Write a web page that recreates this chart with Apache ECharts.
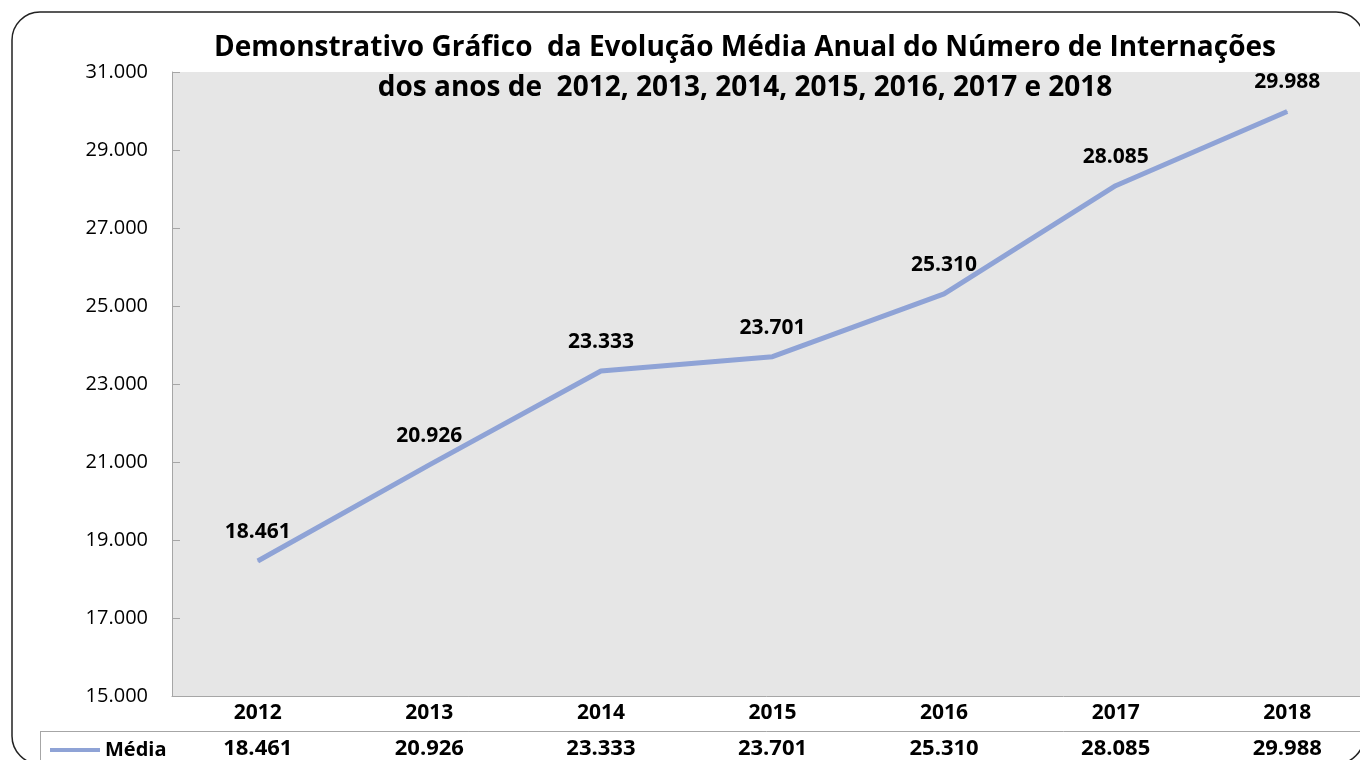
<!DOCTYPE html>
<html lang="pt">
<head>
    <meta charset="UTF-8">
    <title>Evolução Média Anual do Número de Internações</title>
    <script src="https://cdn.jsdelivr.net/npm/echarts@6/dist/echarts.min.js"></script>
    <style>
        html, body { margin: 0; padding: 0; background: #fff; }
        #chart { width: 1360px; height: 760px; }
    </style>
</head>
<body>
<div id="chart"></div>
<script>
    // dados
    var anos = ['2012', '2013', '2014', '2015', '2016', '2017', '2018'];
    var media = [18461, 20926, 23333, 23701, 25310, 28085, 29988];
    var yMin = 15000, yMax = 31000, yStep = 2000;

    function fmt(v) {
        return String(v).replace(/\B(?=(\d{3})+(?!\d))/g, '.');
    }

    var FONT = '"Open Sans", "Noto Sans", sans-serif';
    var GRID = '#a6a6a6';

    var chart = echarts.init(document.getElementById('chart'));

    var option = {
        animation: false,
        textStyle: { fontFamily: FONT },
        grid: {
            left: 172, right: -13, top: 72, bottom: 64,
            outerBoundsMode: 'none', containLabel: false,
            show: true, backgroundColor: '#e6e6e6', borderWidth: 0
        },
        legend: {
            data: ['Média'],
            left: 45, top: 735,
            icon: 'rect', itemWidth: 50, itemHeight: 4, itemGap: 0,
            textStyle: { fontFamily: FONT, fontWeight: 'bold', fontSize: 20, color: '#000', padding: [0, 0, 0, 0] }
        },
        xAxis: [{
            type: 'category',
            data: anos,
            position: 'bottom',
            boundaryGap: true,
            axisLine: { lineStyle: { color: GRID, width: 1 } },
            axisTick: { length: 35, lineStyle: { color: GRID } },
            axisLabel: {
                margin: 0, lineHeight: 35, fontSize: 21, fontWeight: 'bold', color: '#000',
                fontFamily: FONT
            }
        }, {
            type: 'category',
            data: anos,
            position: 'bottom',
            offset: 35,
            boundaryGap: true,
            axisLine: { lineStyle: { color: GRID, width: 1 } },
            axisTick: { length: 35, lineStyle: { color: GRID } },
            axisLabel: {
                margin: 0, lineHeight: 35, fontSize: 22, fontWeight: 'bold', color: '#000',
                fontFamily: FONT,
                formatter: function (v, i) { return fmt(media[i]); }
            }
        }],
        yAxis: {
            type: 'value',
            min: yMin, max: yMax, interval: yStep,
            axisLine: { show: true, lineStyle: { color: GRID } },
            axisTick: { show: true, inside: true, length: 8, lineStyle: { color: GRID } },
            splitLine: { show: false },
            axisLabel: {
                margin: 24, fontSize: 20, color: '#000', fontFamily: FONT,
                formatter: function (v) { return fmt(v); }
            }
        },
        graphic: [
            {
                type: 'rect', z: 100, silent: true,
                shape: { x: 12, y: 12, width: 1352, height: 752, r: 28 },
                style: { fill: 'none', stroke: '#222', lineWidth: 1.5 }
            },
            {
                type: 'text', z: 100, x: 745, y: 28,
                style: {
                    text: 'Demonstrativo Gráfico  da Evolução Média Anual do Número de Internações\ndos anos de  2012, 2013, 2014, 2015, 2016, 2017 e 2018',
                    align: 'center', font: 'bold 28px ' + FONT, lineHeight: 40, fill: '#000'
                }
            },
            {
                type: 'line', z: 100,
                shape: { x1: 40, y1: 731.5, x2: 172, y2: 731.5 },
                style: { stroke: GRID, lineWidth: 1 }
            },
            {
                type: 'line', z: 100,
                shape: { x1: 40.5, y1: 731, x2: 40.5, y2: 770 },
                style: { stroke: GRID, lineWidth: 1 }
            }
        ],
        series: [{
            name: 'Média',
            type: 'line',
            data: media,
            color: '#8fa3d6',
            lineStyle: { width: 5, color: '#8fa3d6' },
            symbol: 'circle', symbolSize: 1,
            label: {
                show: true, position: 'top', distance: 18,
                fontSize: 21, fontWeight: 'bold', color: '#000', fontFamily: FONT,
                formatter: function (p) { return fmt(p.value); }
            }
        }]
    };

    chart.setOption(option);
</script>
</body>
</html>
